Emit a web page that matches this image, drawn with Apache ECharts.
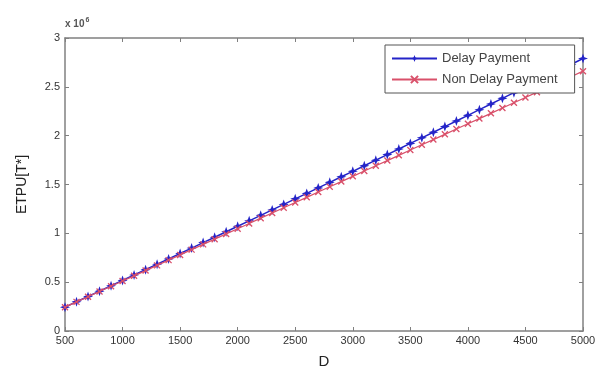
<!DOCTYPE html>
<html>
<head>
<meta charset="utf-8">
<script src="https://cdn.jsdelivr.net/npm/echarts@6/dist/echarts.min.js"></script>
<style>
  html, body { margin: 0; padding: 0; background: #fff; }
  #chart { width: 605px; height: 374px; }
</style>
</head>
<body>
<div id="chart"></div>
<script>
// D values (x axis)
const dValues = [500, 600, 700, 800, 900, 1000, 1100, 1200, 1300, 1400,
  1500, 1600, 1700, 1800, 1900, 2000, 2100, 2200, 2300, 2400,
  2500, 2600, 2700, 2800, 2900, 3000, 3100, 3200, 3300, 3400,
  3500, 3600, 3700, 3800, 3900, 4000, 4100, 4200, 4300, 4400,
  4500, 4600, 4700, 4800, 4900, 5000];
// ETPU (x 10^6)
const delayPayment = [0.244, 0.299, 0.353, 0.408, 0.463, 0.518, 0.573, 0.628, 0.683, 0.738,
  0.794, 0.849, 0.905, 0.960, 1.016, 1.072, 1.128, 1.184, 1.240, 1.296,
  1.353, 1.409, 1.465, 1.522, 1.579, 1.635, 1.692, 1.749, 1.806, 1.863,
  1.921, 1.978, 2.035, 2.093, 2.150, 2.208, 2.266, 2.324, 2.382, 2.440,
  2.498, 2.556, 2.615, 2.673, 2.731, 2.790];
const nonDelayPayment = [0.244, 0.298, 0.351, 0.405, 0.458, 0.512, 0.565, 0.619, 0.672, 0.726,
  0.779, 0.833, 0.887, 0.940, 0.994, 1.047, 1.101, 1.155, 1.208, 1.262,
  1.316, 1.369, 1.423, 1.477, 1.530, 1.584, 1.638, 1.692, 1.745, 1.799,
  1.853, 1.907, 1.960, 2.014, 2.068, 2.122, 2.175, 2.229, 2.283, 2.337,
  2.391, 2.445, 2.498, 2.552, 2.606, 2.660];
const seriesNames = ["Delay Payment", "Non Delay Payment"];

const font = "'Liberation Sans', Arial, sans-serif";
const axisGray = "#808080";

const chart = echarts.init(document.getElementById("chart"));

const pair = (ys) => dValues.map((d, i) => [d, ys[i]]);

const baseX = {
  type: "value",
  min: 500,
  max: 5000,
  interval: 500,
  axisLine: { show: true, onZero: false, lineStyle: { color: axisGray, width: 1.5 } },
  axisTick: { show: true, inside: true, length: 4, lineStyle: { color: axisGray } },
  splitLine: { show: false },
};
const baseY = {
  type: "value",
  min: 0,
  max: 3,
  interval: 0.5,
  axisLine: { show: true, onZero: false, lineStyle: { color: axisGray, width: 1.5 } },
  axisTick: { show: true, inside: true, length: 4, lineStyle: { color: axisGray } },
  splitLine: { show: false },
};

chart.setOption({
  animation: false,
  textStyle: { fontFamily: font },
  grid: { left: 65, right: 22, top: 38, bottom: 41 },
  title: {
    text: "{a|x 10}{b|6}",
    left: 60,
    top: 12,
    textStyle: {
      rich: {
        a: { fontSize: 10, color: "#555", fontFamily: font },
        b: { fontSize: 7, color: "#555", fontFamily: font, verticalAlign: "top", padding: [0, 0, 8, 1] },
      },
    },
  },
  legend: {
    data: seriesNames,
    orient: "vertical",
    left: 385,
    top: 45,
    itemWidth: 45,
    itemHeight: 9,
    itemGap: 8,
    padding: [7, 17, 7, 6],
    backgroundColor: "#fff",
    borderColor: "#555",
    borderWidth: 1,
    textStyle: { fontSize: 13, color: "#444", fontFamily: font },
  },
  xAxis: [
    Object.assign({}, baseX, {
      position: "bottom",
      name: "D",
      nameLocation: "middle",
      nameGap: 23,
      nameTextStyle: { fontSize: 15, color: "#222", fontFamily: font },
      axisLabel: { fontSize: 11, color: "#333", margin: 4, fontFamily: font, formatter: (v) => String(v) },
    }),
    Object.assign({}, baseX, { position: "top", axisLabel: { show: false } }),
  ],
  yAxis: [
    Object.assign({}, baseY, {
      position: "left",
      name: "ETPU[T*]",
      nameLocation: "middle",
      nameGap: 36,
      nameTextStyle: { fontSize: 14, color: "#222", fontFamily: font },
      axisLabel: { fontSize: 11, color: "#333", margin: 5, fontFamily: font },
    }),
    Object.assign({}, baseY, { position: "right", axisLabel: { show: false } }),
  ],
  series: [
    {
      name: seriesNames[0],
      type: "line",
      data: pair(delayPayment),
      symbol: "path://M5,0 L6.3,3.7 L10,5 L6.3,6.3 L5,10 L3.7,6.3 L0,5 L3.7,3.7 Z",
      symbolSize: 10,
      color: "#2424c8",
      lineStyle: { width: 1.5, color: "#2424c8" },
      itemStyle: { color: "#2424c8" },
      z: 2,
    },
    {
      name: seriesNames[1],
      type: "line",
      data: pair(nonDelayPayment),
      symbol: "path://M0,0 L10,10 M10,0 L0,10",
      symbolSize: 6,
      color: "#d9506a",
      lineStyle: { width: 1.3, color: "#d9506a" },
      itemStyle: { color: "transparent", borderColor: "#d9506a", borderWidth: 1.3 },
      z: 3,
    },
  ],
});
</script>
</body>
</html>
